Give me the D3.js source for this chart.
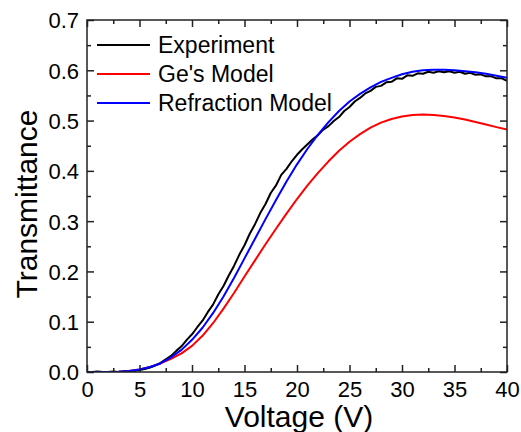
<!DOCTYPE html>
<html>
<head>
<meta charset="utf-8">
<script src="https://cdn.jsdelivr.net/npm/d3@7"></script>
<style>
	body { margin: 0; background: #fff; }
	text { font-family: Arial, 'Liberation Sans', sans-serif; fill: #000; }
</style>
</head>
<body>
<script>
let seriesNames = ['Experiment', "Ge's Model", 'Refraction Model']
let seriesColors = ['#000000', '#ff0000', '#0000ff']

let expVoltage = [0, 0.5, 1, 1.5, 2, 2.5, 3, 3.5, 4, 4.5, 5, 5.5, 6, 6.5, 7, 7.5, 8, 8.5, 9, 9.5,
	10, 10.5, 11, 11.5, 12, 12.5, 13, 13.5, 14, 14.5, 15, 15.5, 16, 16.5, 17, 17.5, 18, 18.5, 19, 19.5,
	20, 20.5, 21, 21.5, 22, 22.5, 23, 23.5, 24, 24.5, 25, 25.5, 26, 26.5, 27, 27.5, 28, 28.5, 29, 29.5,
	30, 30.5, 31, 31.5, 32, 32.5, 33, 33.5, 34, 34.5, 35, 35.5, 36, 36.5, 37, 37.5, 38, 38.5, 39, 39.5, 40]
let expT = [0.000, 0.000, 0.001, 0.000, 0.000, 0.001, 0.000, 0.001, 0.001, 0.002, 0.004, 0.006, 0.009, 0.013, 0.018, 0.025, 0.032, 0.042, 0.051, 0.064,
	0.075, 0.089, 0.102, 0.119, 0.134, 0.154, 0.171, 0.192, 0.211, 0.233, 0.252, 0.275, 0.294, 0.316, 0.334, 0.356, 0.371, 0.392, 0.404, 0.419,
	0.432, 0.443, 0.453, 0.463, 0.471, 0.482, 0.489, 0.499, 0.507, 0.519, 0.527, 0.538, 0.545, 0.554, 0.559, 0.567, 0.569, 0.576, 0.577, 0.584,
	0.583, 0.590, 0.589, 0.594, 0.593, 0.597, 0.595, 0.598, 0.596, 0.598, 0.595, 0.597, 0.593, 0.595, 0.591, 0.592, 0.588, 0.588, 0.584, 0.584, 0.579]

let modelVoltage = [0, 1, 2, 3, 4, 5, 6, 7, 8, 9, 10, 11, 12, 13, 14, 15, 16, 17, 18, 19, 20,
	21, 22, 23, 24, 25, 26, 27, 28, 29, 30, 31, 32, 33, 34, 35, 36, 37, 38, 39, 40]
let geT = [0, 0, 0, 0.0005, 0.002, 0.005, 0.01, 0.017, 0.026, 0.037, 0.052, 0.072, 0.097, 0.126, 0.157, 0.19, 0.222, 0.254, 0.285, 0.315, 0.344,
	0.371, 0.396, 0.419, 0.44, 0.458, 0.473, 0.486, 0.496, 0.503, 0.508, 0.511, 0.512, 0.511, 0.509, 0.506, 0.502, 0.497, 0.492, 0.487, 0.482]
let refractionT = [0, 0, 0, 0.0005, 0.002, 0.005, 0.01, 0.017, 0.029, 0.044, 0.064, 0.088, 0.117, 0.15, 0.187, 0.226, 0.265, 0.304, 0.342, 0.379, 0.413,
	0.444, 0.472, 0.497, 0.519, 0.538, 0.553, 0.566, 0.577, 0.585, 0.592, 0.597, 0.6, 0.601, 0.601, 0.6, 0.598, 0.596, 0.593, 0.589, 0.585]

let xMajor = [0, 5, 10, 15, 20, 25, 30, 35, 40]
let xMinor = [2.5, 7.5, 12.5, 17.5, 22.5, 27.5, 32.5, 37.5]
let yMajor = [0.0, 0.1, 0.2, 0.3, 0.4, 0.5, 0.6, 0.7]
let yMinor = [0.05, 0.15, 0.25, 0.35, 0.45, 0.55, 0.65]

let width = 521, height = 432
let mLeft = 87, mRight = 507, mTop = 20, mBottom = 372

let svg = d3.select('body').append('svg')
	.attr('width', width).attr('height', height)

let x = d3.scaleLinear().domain([0, 40]).range([mLeft, mRight])
let y = d3.scaleLinear().domain([0, 0.7]).range([mBottom, mTop])

let plot = svg.append('g')
let clip = svg.append('clipPath').attr('id', 'clip')
clip.append('rect').attr('x', mLeft).attr('y', mTop).attr('width', mRight - mLeft).attr('height', mBottom - mTop)

let line = d3.line().x(d => x(d[0])).y(d => y(d[1]))
let series = [
	d3.zip(expVoltage, expT),
	d3.zip(modelVoltage, geT),
	d3.zip(modelVoltage, refractionT)
]
let drawOrder = [1, 0, 2]
for (let i of drawOrder) {
	plot.append('path')
		.attr('d', line(series[i]))
		.attr('clip-path', 'url(#clip)')
		.attr('fill', 'none')
		.attr('stroke', seriesColors[i]).attr('stroke-width', 2)
		.attr('stroke-linejoin', 'round')
}

// ticks on all four sides, pointing inward
let axes = svg.append('g')
function tickSet(axisFn, scale, values, len, tx, ty, labels) {
	let a = axisFn(scale).tickValues(values).tickSizeInner(-len).tickSizeOuter(0)
	if (!labels) a.tickFormat('')
	else a.tickFormat(labels)
	let g = axes.append('g').attr('transform', `translate(${tx},${ty})`).call(a)
	g.select('.domain').remove()
	g.selectAll('line').attr('stroke', '#222').attr('stroke-width', 1.5)
	return g
}
let xb = tickSet(d3.axisBottom, x, xMajor, 7, 0, mBottom, d3.format('d'))
tickSet(d3.axisBottom, x, xMinor, 4, 0, mBottom)
tickSet(d3.axisTop, x, xMajor, 7, 0, mTop)
tickSet(d3.axisTop, x, xMinor, 4, 0, mTop)
let yl = tickSet(d3.axisLeft, y, yMajor, 7, mLeft, 0, d3.format('.1f'))
tickSet(d3.axisLeft, y, yMinor, 4, mLeft, 0)
tickSet(d3.axisRight, y, yMajor, 7, mRight, 0)
tickSet(d3.axisRight, y, yMinor, 4, mRight, 0)

xb.selectAll('text').attr('y', 9).attr('dy', '0.71em')
	.style('font-size', '22px').style('font-family', 'Arial, "Liberation Sans", sans-serif').attr('fill', '#000')
yl.selectAll('text').attr('x', -8).attr('dy', '0.36em')
	.style('font-size', '22px').style('font-family', 'Arial, "Liberation Sans", sans-serif').attr('fill', '#000')

axes.append('rect')
	.attr('x', mLeft).attr('y', mTop)
	.attr('width', mRight - mLeft).attr('height', mBottom - mTop)
	.attr('fill', 'none').attr('stroke', '#222').attr('stroke-width', 1.5)

svg.append('text')
	.attr('x', (mLeft + mRight) / 2 + 2).attr('y', 427)
	.attr('text-anchor', 'middle')
	.style('font-size', '30px')
	.text('Voltage (V)')

svg.append('text')
	.attr('transform', `translate(37,${(mTop + mBottom) / 2 + 8}) rotate(-90)`)
	.attr('text-anchor', 'middle')
	.style('font-size', '30px')
	.text('Transmittance')

let legend = svg.append('g')
for (let i = 0; i < seriesNames.length; i++) {
	let ly = 45 + i * 29
	legend.append('line')
		.attr('x1', 97).attr('x2', 150)
		.attr('y1', ly).attr('y2', ly)
		.attr('stroke', seriesColors[i]).attr('stroke-width', 2)
	legend.append('text')
		.attr('x', 158).attr('y', ly + 8)
		.style('font-size', '23px')
		.text(seriesNames[i])
}
</script>
</body>
</html>
